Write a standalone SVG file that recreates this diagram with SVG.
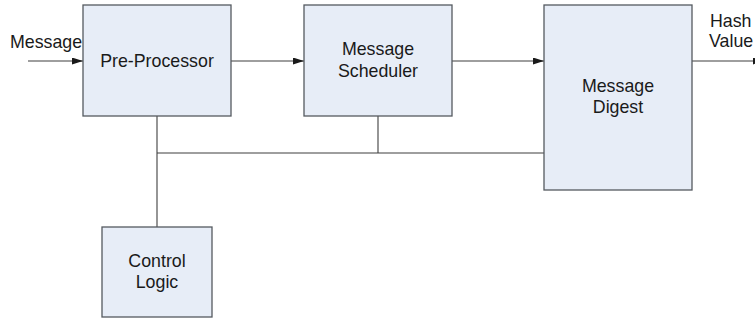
<svg xmlns="http://www.w3.org/2000/svg" width="755" height="320" viewBox="0 0 755 320">
  <style>
    .box { fill: #e7edf7; stroke: #555a60; stroke-width: 1.3; }
    .wire { fill: none; stroke: #3f3f3f; stroke-width: 1.1; }
    text { font-family: "Liberation Sans", Arial, sans-serif; font-size: 17.8px; fill: #1a1a1a; }
    .c { text-anchor: middle; }
  </style>
  <defs>
    <marker id="arrow" markerWidth="11" markerHeight="7" refX="11" refY="3.5" orient="auto" markerUnits="userSpaceOnUse">
      <path d="M0,0 L11,3.5 L0,7 Z" fill="#1a1a1a"/>
    </marker>
  </defs>

  <rect width="755" height="320" fill="#ffffff"/>

  <!-- connectors -->
  <g id="connectors">
    <line class="wire" x1="28" y1="61" x2="83" y2="61" marker-end="url(#arrow)"/>
    <line class="wire" x1="231" y1="61" x2="304" y2="61" marker-end="url(#arrow)"/>
    <line class="wire" x1="452" y1="61" x2="544" y2="61" marker-end="url(#arrow)"/>
    <line class="wire" x1="692" y1="61" x2="764" y2="61" marker-end="url(#arrow)"/>
    <!-- control bus -->
    <line class="wire" x1="157" y1="116" x2="157" y2="227"/>
    <line class="wire" x1="157" y1="153" x2="544" y2="153"/>
    <line class="wire" x1="378" y1="116" x2="378" y2="153"/>
  </g>

  <!-- port labels -->
  <text x="10" y="48">Message</text>
  <text x="710" y="27">Hash</text>
  <text x="709" y="47">Value</text>

  <g id="pre-processor">
    <rect class="box" x="83" y="5" width="148" height="111"/>
    <text class="c" x="157" y="67">Pre-Processor</text>
  </g>

  <g id="message-scheduler">
    <rect class="box" x="304" y="5" width="148" height="111"/>
    <text class="c" x="378" y="55">Message</text>
    <text class="c" x="378" y="77">Scheduler</text>
  </g>

  <g id="message-digest">
    <rect class="box" x="544" y="5" width="148" height="185"/>
    <text class="c" x="618" y="92">Message</text>
    <text class="c" x="618" y="113">Digest</text>
  </g>

  <g id="control-logic">
    <rect class="box" x="102" y="227" width="110" height="90"/>
    <text class="c" x="157" y="267">Control</text>
    <text class="c" x="157" y="288">Logic</text>
  </g>
</svg>
